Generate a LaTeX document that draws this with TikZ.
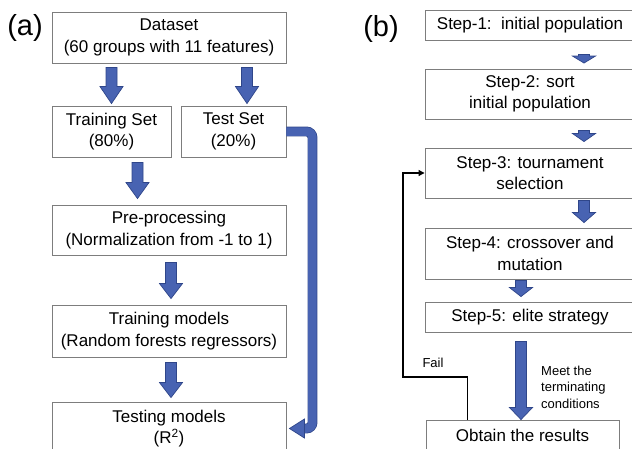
\documentclass[tikz,border=0pt]{standalone}
\usepackage{fontspec}
\setmainfont{Liberation Sans}
\usetikzlibrary{calc,arrows.meta}
\definecolor{boxgray}{RGB}{125,125,125}
\definecolor{arrowblue}{RGB}{72,99,178}
\definecolor{arrowedge}{RGB}{47,70,138}

% thick blue block arrow, from top point #1 down to tip #2, head length #3
\newcommand{\blockarrow}[3]{%
  \filldraw[blockfill] let \p1=#1, \p2=#2 in
    (\x1-5.5pt,\y1) -- (\x1+5.5pt,\y1) -- (\x1+5.5pt,\y2+#3) -- (\x1+11.5pt,\y2+#3)
    -- (\x1,\y2) -- (\x1-11.5pt,\y2+#3) -- (\x1-5.5pt,\y2+#3) -- cycle;}

\begin{document}
\begin{tikzpicture}[x=1pt,y=-1pt,
    box/.style={draw=boxgray, line width=0.9pt, inner sep=0pt, align=center,
                font=\fontsize{17}{21.5}\selectfont},
    blockfill/.style={fill=arrowblue, draw=arrowedge, line width=0.7pt, line join=miter},
    band/.style={draw=arrowedge, line width=0.7pt, double=arrowblue, double distance=8.5pt,
                 rounded corners=6pt},
    loopline/.style={draw=black, line width=1.1pt, -{Triangle[length=6pt,width=6pt]}},
    smalltxt/.style={align=left, inner sep=0pt, font=\fontsize{13}{16.5}\selectfont},
    panel/.style={inner sep=0pt, font=\fontsize{29}{32}\selectfont}]
        \useasboundingbox (0,0) rectangle (632,448);
        \clip (0,0) rectangle (632,448);

        % (a) Data flow
        \node[panel] (lbla) at (25,28) {(a)};
        \node[box, minimum width=234, minimum height=51] (dataset) at (169,37.5)
            {Dataset\\(60 groups with 11 features)};
        \node[box, minimum width=119, minimum height=51] (train) at (111.5,131.5)
            {Training Set\\(80\%)};
        \node[box, minimum width=105, minimum height=51] (test) at (233.5,131.5)
            {Test Set\\(20\%)};
        \node[box, minimum width=234, minimum height=50] (prep) at (169,230)
            {Pre-processing\\(Normalization from -1 to 1)};
        \node[box, minimum width=234, minimum height=52] (trmod) at (169,331)
            {Training models\\(Random forests regressors)};
        \node[box, minimum width=234, minimum height=53] (testmod) at (169,428.5)
            {Testing models\\(R\textsuperscript{2})};

        \blockarrow{($(dataset.south -| train)+(0,4)$)}{($(train.north)+(0,-2)$)}{17pt}
        \blockarrow{($(dataset.south -| test)+(13.5,4)$)}{($(test.north)+(13.5,-2)$)}{17pt}
        \blockarrow{($(train.south)+(26,5)$)}{($(prep.north -| train)+(26,-6)$)}{16pt}
        \blockarrow{($(prep.south)+(2,7)$)}{($(trmod.north)+(2,-6)$)}{15pt}
        \blockarrow{($(trmod.south)+(2,5)$)}{($(testmod.north)+(2,-4)$)}{15pt}

        % Test set goes straight to testing
        \draw[band] (test.east) -- ($(test.east)+(26,0)$) |- ($(testmod.east)+(17,0)$);
        \filldraw[blockfill] ($(testmod.east)+(3,0)$) -- ++(15,-9.5) -- ++(0,19) -- cycle;

        % (b) Genetic algorithm steps
        \node[panel] (lblb) at (381,29) {(b)};
        \node[box, minimum width=210, minimum height=30] (step1) at (530,25)
            {Step-1:\ \ initial population};
        \node[box, minimum width=210, minimum height=50] (step2) at (530,94)
            {Step-2: sort\\initial population};
        \node[box, minimum width=210, minimum height=50] (step3) at (530,173)
            {Step-3: tournament\\selection};
        \node[box, minimum width=210, minimum height=51] (step4) at (530,253.5)
            {Step-4: crossover and\\mutation};
        \node[box, minimum width=210, minimum height=30] (step5) at (530,317)
            {Step-5: elite strategy};
        \node[box, minimum width=193, minimum height=30] (obtain) at (522.5,435)
            {Obtain the results};

        \blockarrow{($(step1.south)+(54,14)$)}{($(step2.north)+(54,-5.5)$)}{7pt}
        \blockarrow{($(step2.south)+(54,11)$)}{($(step3.north)+(54,-6)$)}{8pt}
        \blockarrow{($(step3.south)+(54,2)$)}{($(step4.north)+(54,-5)$)}{10pt}
        \blockarrow{($(step4.south)+(-9,1)$)}{($(step5.north)+(-9,-5)$)}{9pt}
        \blockarrow{($(step5.south)+(-9,9)$)}{($(obtain.north)+(-1.5,0)$)}{12pt}
        \node[smalltxt, anchor=west] (meet) at (541,387)
            {Meet the\\terminating\\conditions};

        % Loop back on failure
        \coordinate (failturn) at (403,377);
        \draw[loopline] ($(obtain.north west)+(42,0)$) |- (failturn) |- (step3.west);
        \node[smalltxt] (fail) at (433,363) {Fail};
\end{tikzpicture}
\end{document}
